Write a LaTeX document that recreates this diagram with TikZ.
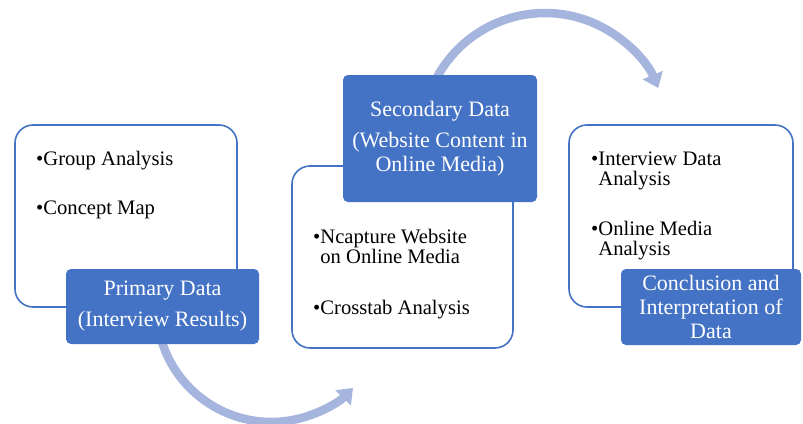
\documentclass[tikz,border=0pt]{standalone}
\usepackage{fontspec}
\setmainfont{Liberation Serif}
\usetikzlibrary{arrows.meta}
\definecolor{accent}{RGB}{68,114,196}
\definecolor{flow}{RGB}{166,181,221}
\begin{document}
\begin{tikzpicture}[x=1pt,y=-1pt,
  panel/.style={draw=accent, line width=1.6pt, fill=white, rounded corners=18pt, inner sep=0pt},
  tag/.style={fill=accent, rounded corners=5pt, text=white, align=center, inner sep=0pt,
    font=\fontsize{22}{24}\selectfont},
  item/.style={anchor=base west, inner sep=0pt, font=\fontsize{20.6}{20}\selectfont},
  flowarrow/.style={draw=flow, line width=8.5pt, -{Triangle[width=21pt,length=14pt]}}]
\useasboundingbox (0,0) rectangle (803,423);

% curved arrows between the stages
\coordinate (s1) at (160.5,336.9);
\coordinate (s2) at (436.4,78.3);
\draw[flowarrow] (s1) arc[start angle=-195, end angle=-315.3, radius=114.8];
\draw[flowarrow] (s2) arc[start angle=-152, end angle=-23, radius=123];

% white panels
\node[panel, minimum width=222pt, minimum height=182pt] (w1) at (126,216) {};
\node[panel, minimum width=221pt, minimum height=182pt] (w2) at (402.5,257) {};
\node[panel, minimum width=224pt, minimum height=182pt] (w3) at (681,216) {};

% panel contents
\node[item] (t11) at (36,165) {•Group Analysis};
\node[item] (t12) at (36,214) {•Concept Map};
\node[item] (t21a) at (313,243) {•Ncapture Website};
\node[item] (t21b) at (t21a.base west) [yshift=-20pt] {\phantom{•}on Online Media};
\node[item] (t22) at (313,314) {•Crosstab Analysis};
\node[item] (t31a) at (591,165) {•Interview Data};
\node[item] (t31b) at (t31a.base west) [yshift=-20pt] {\phantom{•}Analysis};
\node[item] (t32a) at (591,235) {•Online Media};
\node[item] (t32b) at (t32a.base west) [yshift=-20pt] {\phantom{•}Analysis};

% blue stage labels
\node[tag, minimum width=193pt, minimum height=75pt] (b1) at (162.5,306.5)
  {Primary Data\\[7pt](Interview Results)};
\node[tag, minimum width=194pt, minimum height=127pt] (b2) at (440,138.5)
  {Secondary Data\\[7pt](Website Content in\\Online Media)};
\node[tag, minimum width=180pt, minimum height=76pt] (b3) at (711,307)
  {Conclusion and\\Interpretation of\\Data};
\end{tikzpicture}
\end{document}
